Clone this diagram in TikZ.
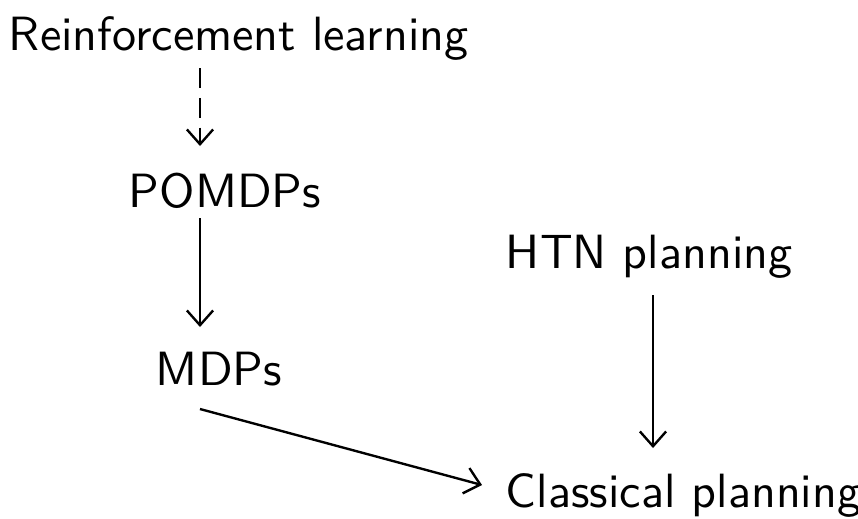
\documentclass[tikz,border=0pt]{standalone}
\usetikzlibrary{calc,arrows.meta}
\begin{document}
\begin{tikzpicture}[x=0.21pt, y=-0.21pt,
  lbl/.style={inner sep=0pt, anchor=base west, font=\fontsize{10.1}{12}\sffamily},
  arr/.style={-{Straight Barb[length=3.1pt, width=5.5pt]}, line width=0.5pt},
  dsh/.style={dash pattern=on 4.2pt off 2.05pt}]
\useasboundingbox (0,0) rectangle (858,518);
% planning formalisms
\node[lbl] (rl)  at (8,50)   {Reinforcement learning};
\node[lbl] (pom) at (128,207) {POMDPs};
\node[lbl] (mdp) at (155,385) {MDPs};
\node[lbl] (htn) at (505,268) {HTN planning};
\node[lbl] (cls) at (505,507) {Classical planning};
% arrow columns
\coordinate (c1) at (200,0);
\coordinate (c2) at (653,0);
% relations
\draw[arr, dsh] ($(rl.base -| c1)+(0,18)$) -- ($(pom.base -| c1)+(0,-61)$);
\draw[arr] ($(pom.base -| c1)+(0,11)$) -- ($(mdp.base -| c1)+(0,-58)$);
\draw[arr] ($(mdp.base -| c1)+(0,24)$) -- ($(cls.base west)+(-23,-22)$);
\draw[arr] ($(htn.base -| c2)+(0,27)$) -- ($(cls.base -| c2)+(0,-59)$);
\end{tikzpicture}
\end{document}
